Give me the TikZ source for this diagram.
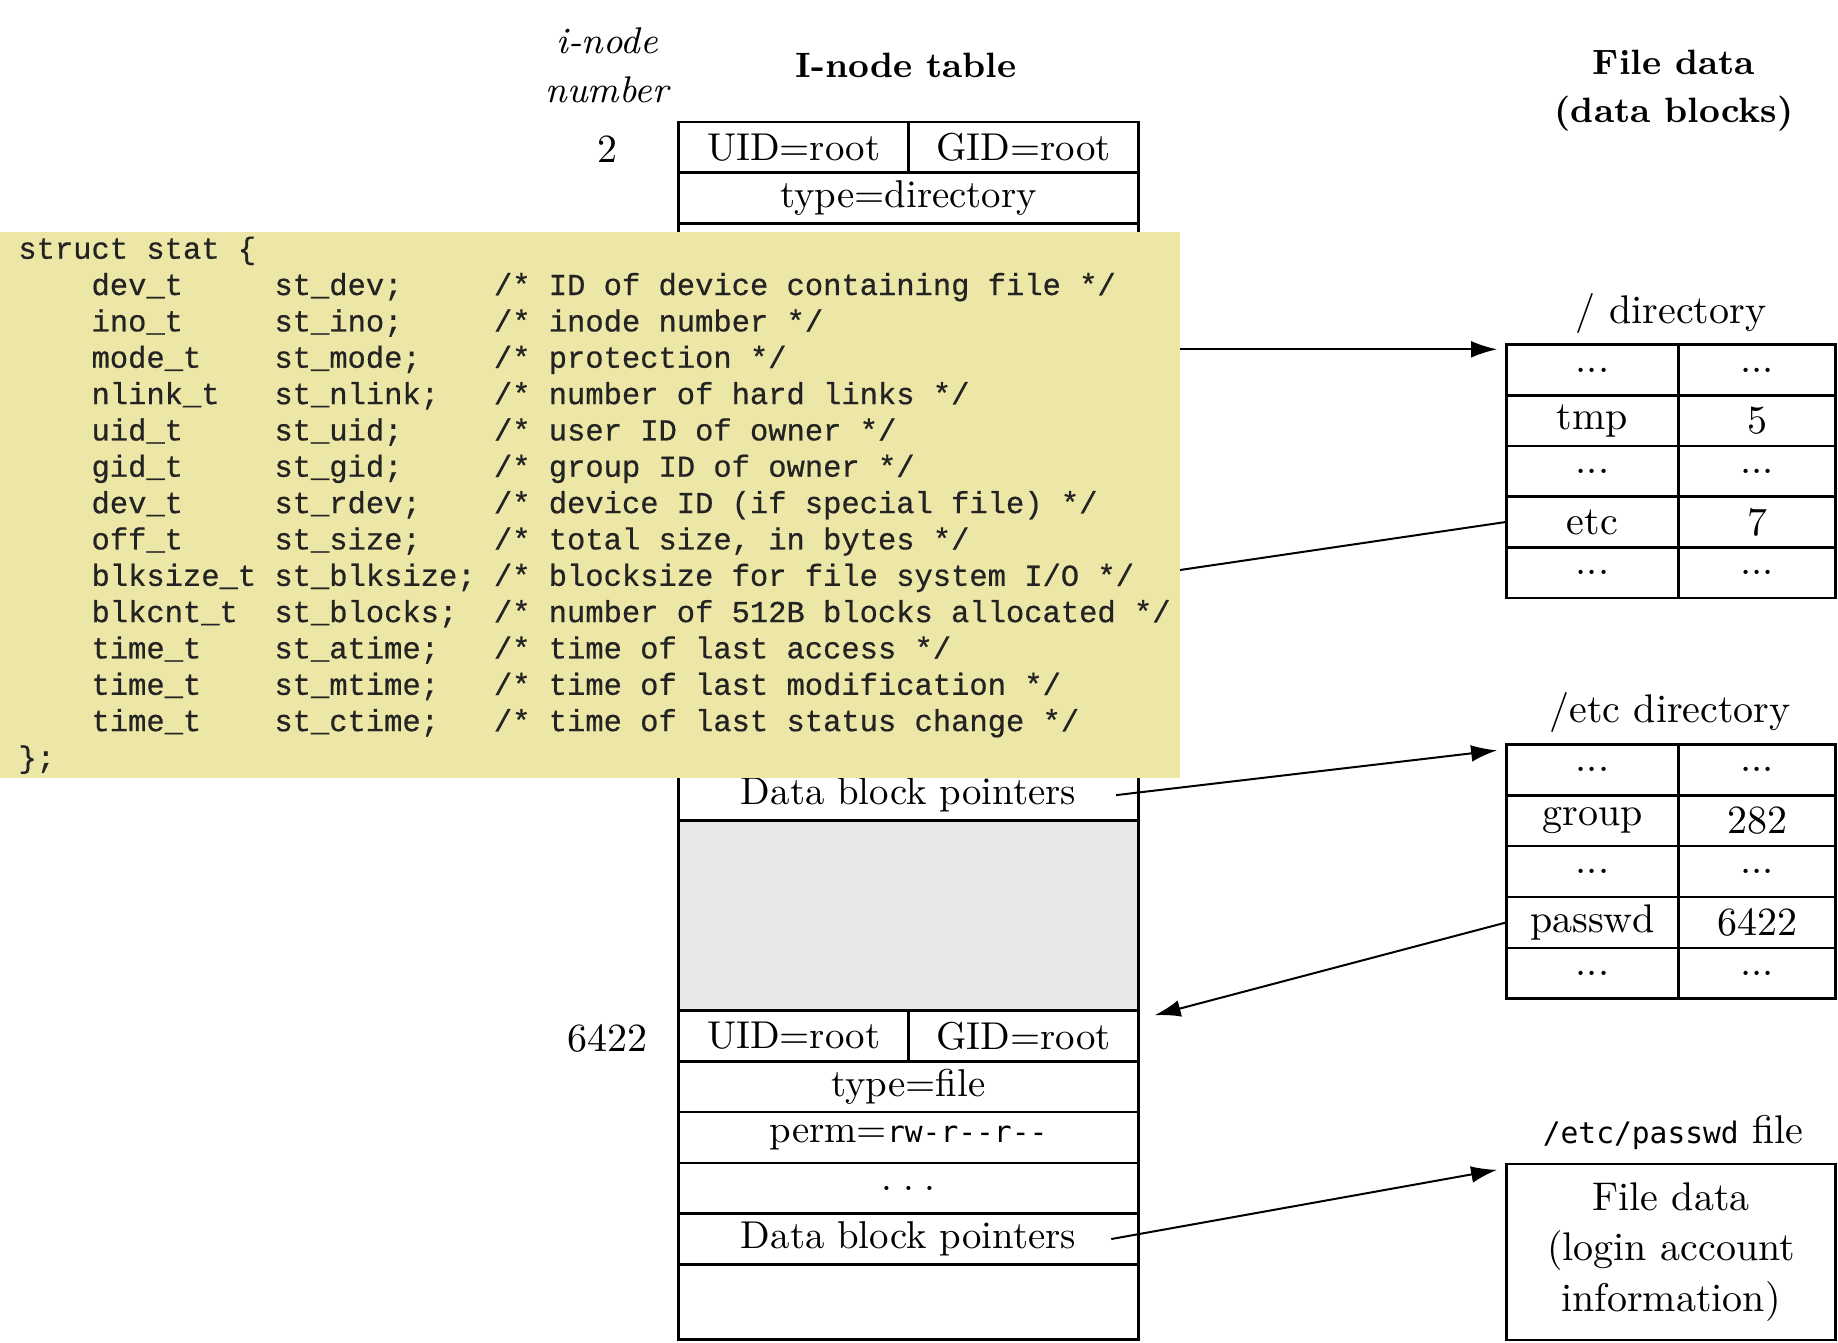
\documentclass[tikz,border=0pt]{standalone}
\usepackage{fontspec}
\newfontfamily\codefont{Liberation Mono}[FakeBold=0.6]
\newfontfamily\sansmono{DejaVu Sans Mono}
\usetikzlibrary{arrows.meta}
\definecolor{codebg}{RGB}{237,231,167}
\definecolor{gapgray}{RGB}{230,231,232}
\definecolor{codeink}{RGB}{35,35,35}
\newcommand\Tf{\fontsize{9.7pt}{11.6pt}\selectfont}
\newcommand\Df{\fontsize{10pt}{12pt}\selectfont}
\newcommand\Hf{\fontsize{8.8pt}{12pt}\selectfont\bfseries}
\newcommand\If{\fontsize{9.3pt}{12.3pt}\selectfont\itshape}
\newcommand\Mf{\sansmono\fontsize{7.4pt}{9pt}\selectfont}
\newcommand\Cf{\codefont\fontsize{7.62pt}{9.08pt}\selectfont\frenchspacing}
\begin{document}
\begin{tikzpicture}[x=0.25pt,y=-0.25pt,
 cell/.style={draw, line width=0.65pt, inner sep=0pt, outer sep=0pt, font=\Tf},
 full/.style={cell, minimum width=114.875pt, minimum height=12.7pt},
 half/.style={cell, minimum width=57.44pt, minimum height=12.7pt},
 dl/.style={cell, font=\Df, minimum width=43.075pt, minimum height=12.7pt},
 dr/.style={cell, font=\Df, minimum width=39.275pt, minimum height=12.7pt},
 codeline/.style={anchor=base west, inner sep=0pt, font=\Cf, text=codeink},
 ptr/.style={line width=0.5pt, -{Latex[length=6.5pt,width=4.2pt]}},
 lbl/.style={inner sep=0pt, align=center}]

\useasboundingbox (0,0) rectangle (1838,1342);

% ---- headings
\node[lbl, font=\If] (inohead) at (607.2,65.6) {i-node\\number};
\node[lbl, font=\Hf] (tablehead) at (906.1,65.6) {I-node table};
\node[lbl, font=\Hf] (datahead) at (1674,90.8) {File data\\(data blocks)};
\node[lbl, font=\Df] (num2) at (607.2,148.9) {2};
\node[lbl, font=\Df] (num6422) at (607.2,1038.6) {6422};

% ---- i-node table: i-node 2
\node[half] (u2) at (793.6,147.3) {UID=root};
\node[half] (g2) at (1023.35,147.3) {GID=root};
\node[full] (t2) at (908.45,198.1) {type=directory};
\node[full] (dbp7) at (908.45,795.1) {Data block pointers};
\draw[line width=0.65pt] (t2.south west) -- (dbp7.north west);
\draw[line width=0.65pt] (t2.south east) -- (dbp7.north east);
\node[cell, fill=gapgray, minimum width=114.875pt, minimum height=47.475pt] (gap) at (908.45,915.45) {};

% ---- i-node 6422
\node[half] (u64) at (793.6,1035.8) {UID=root};
\node[half] (g64) at (1023.35,1035.8) {GID=root};
\node[full] (t64) at (908.45,1086.6) {type=file};
\node[full] (p64) at (908.45,1137.4) {perm={\Mf rw-r-\kern0pt-r-\kern0pt-}};
\node[full] (d64) at (908.45,1188.2) {.\hspace{2.6pt}.\hspace{2.6pt}.};
\node[full] (dbp64) at (908.45,1239.0) {Data block pointers};
\node[cell, minimum width=114.875pt, minimum height=18.825pt] (e64) at (908.45,1302.05) {};

% ---- / directory
\node[lbl, font=\Df] (rootlbl) at (1671,313) {/ directory};
\node[dl] (d1a) at (1592.45,369.9) {...};
\node[dr] (d1ar) at (1757.15,369.9) {...};
\node[dl] (d1b) at (1592.45,420.6) {tmp};
\node[dr] (d1br) at (1757.15,420.6) {5};
\node[dl] (d1c) at (1592.45,471.2) {...};
\node[dr] (d1cr) at (1757.15,471.2) {...};
\node[dl] (d1d) at (1592.45,521.9) {etc};
\node[dr] (d1dr) at (1757.15,521.9) {7};
\node[dl] (d1e) at (1592.45,572.5) {...};
\node[dr] (d1er) at (1757.15,572.5) {...};

% ---- /etc directory
\node[lbl, font=\Df] (etclbl) at (1670,712.7) {/etc directory};
\node[dl] (e1a) at (1592.45,769.7) {...};
\node[dr] (e1ar) at (1757.15,769.7) {...};
\node[dl] (e1b) at (1592.45,820.6) {group};
\node[dr] (e1br) at (1757.15,820.6) {282};
\node[dl] (e1c) at (1592.45,871.5) {...};
\node[dr] (e1cr) at (1757.15,871.5) {...};
\node[dl] (e1d) at (1592.45,922.4) {passwd};
\node[dr] (e1dr) at (1757.15,922.4) {6422};
\node[dl] (e1e) at (1592.45,973.2) {...};
\node[dr] (e1er) at (1757.15,973.2) {...};

% ---- /etc/passwd file
\node[lbl, font=\Df] (pwlbl) at (1673,1132.3) {{\Mf /etc/passwd} file};
\node[cell, font=\Df, align=center, minimum width=82.35pt, minimum height=43.95pt] (pwbox) at (1671,1251.9)
  {File data\\[0.6pt](login account\\[0.6pt]information)};

% ---- connectors hidden under the struct box
\coordinate (a1s) at (1100,349.3);
\coordinate (i7) at (1150,574.4);
\draw[ptr] (a1s) -- ([xshift=-2.3pt,yshift=-1.2pt]d1a.north west);
\draw[ptr] (d1d.west) -- (i7);

% ---- struct stat overlay
\node[fill=codebg, inner sep=0pt, outer sep=0pt, anchor=north west, minimum width=295.1pt, minimum height=136.575pt] (statbox) at (0,232.1) {};
\node[codeline] (c0) at (17.6,258.7) {struct stat \{};
\node[codeline] (c1) at (17.6,295.0) {~~~~dev\_t~~~~~st\_dev;~~~~~/* ID of device containing file */};
\node[codeline] (c2) at (17.6,331.4) {~~~~ino\_t~~~~~st\_ino;~~~~~/* inode number */};
\node[codeline] (c3) at (17.6,367.7) {~~~~mode\_t~~~~st\_mode;~~~~/* protection */};
\node[codeline] (c4) at (17.6,404.1) {~~~~nlink\_t~~~st\_nlink;~~~/* number of hard links */};
\node[codeline] (c5) at (17.6,440.4) {~~~~uid\_t~~~~~st\_uid;~~~~~/* user ID of owner */};
\node[codeline] (c6) at (17.6,476.7) {~~~~gid\_t~~~~~st\_gid;~~~~~/* group ID of owner */};
\node[codeline] (c7) at (17.6,513.1) {~~~~dev\_t~~~~~st\_rdev;~~~~/* device ID (if special file) */};
\node[codeline] (c8) at (17.6,549.4) {~~~~off\_t~~~~~st\_size;~~~~/* total size, in bytes */};
\node[codeline] (c9) at (17.6,585.8) {~~~~blksize\_t~st\_blksize;~/* blocksize for file system I/O */};
\node[codeline] (c10) at (17.6,622.1) {~~~~blkcnt\_t~~st\_blocks;~~/* number of 512B blocks allocated */};
\node[codeline] (c11) at (17.6,658.4) {~~~~time\_t~~~~st\_atime;~~~/* time of last access */};
\node[codeline] (c12) at (17.6,694.8) {~~~~time\_t~~~~st\_mtime;~~~/* time of last modification */};
\node[codeline] (c13) at (17.6,731.1) {~~~~time\_t~~~~st\_ctime;~~~/* time of last status change */};
\node[codeline] (c14) at (17.6,767.5) {\};};

% ---- visible connectors
\draw[ptr] ([xshift=51.9pt]dbp7.center) -- ([xshift=-2.3pt,yshift=-1.5pt]e1a.north west);
\draw[ptr] (e1d.west) -- ([xshift=4.1pt,yshift=-1.2pt]g64.north east);
\draw[ptr] ([xshift=50.7pt]dbp64.center) -- ([xshift=-2.3pt,yshift=-1.45pt]pwbox.north west);
\end{tikzpicture}
\end{document}
